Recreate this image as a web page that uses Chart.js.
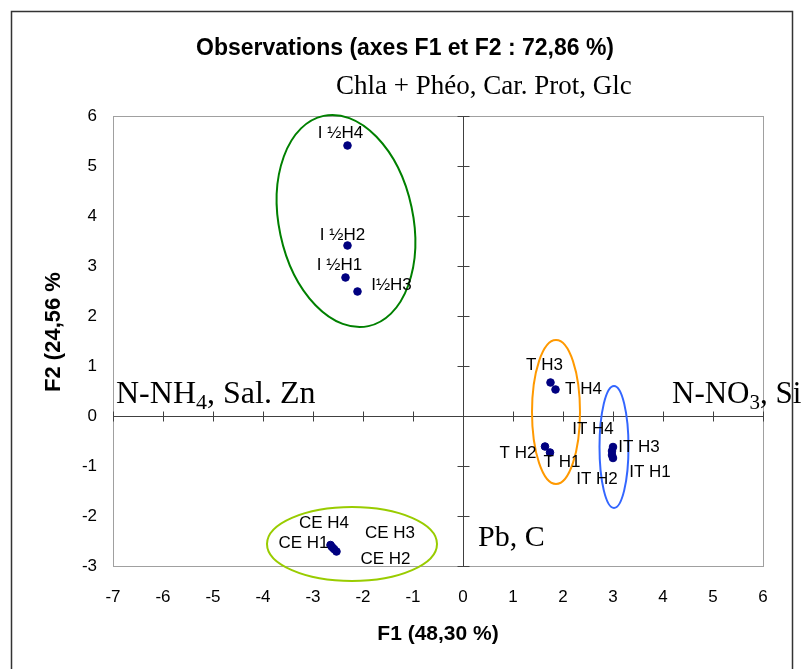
<!DOCTYPE html>
<html>
<head>
<meta charset="utf-8">
<script src="https://cdn.jsdelivr.net/npm/chart.js@4.4.0/dist/chart.umd.min.js"></script>
<style>
  html, body { margin: 0; padding: 0; background: #fff; }
  #wrap { width: 804px; height: 669px; }
</style>
</head>
<body>
<div id="wrap"><canvas id="acp-chart" width="804" height="669"></canvas></div>
<script>
// --- DATA ---
const obsNames = ['I ½H4', 'I ½H2', 'I ½H1', 'I½H3', 'T H3', 'T H4', 'T H2', 'T H1',
                  'IT H4', 'IT H3', 'IT H2', 'IT H1', 'CE H4', 'CE H1', 'CE H3', 'CE H2'];
const f1Scores = [-2.31, -2.31, -2.35, -2.11, 1.75, 1.85, 1.64, 1.74,
                  2.98, 3.00, 2.98, 3.00, -2.62, -2.65, -2.58, -2.53];
const f2Scores = [5.41, 3.41, 2.77, 2.49, 0.67, 0.53, -0.61, -0.73,
                  -0.70, -0.62, -0.78, -0.84, -2.62, -2.58, -2.66, -2.71];
const xRange = [-7, 6];
const yRange = [-3, 6];

// label offsets (px) from each point, same order as obsNames
const labelOffsets = [[-7, -12], [-5, -10], [-6, -12], [34, -6], [-6, -17], [28, 0], [-27, 7], [12, 10],
                      [-19, -22], [26, 0], [-15, 24], [37, 14], [-8, -24], [-27, -2], [56, -16], [49, 8]];

// group ellipses, in axis units
const groups = [
    { cx: -2.34, cy: 3.9, rx: 1.34, ry: 2.15, rot: -0.21, color: '#008000' },
    { cx: 1.86, cy: 0.08, rx: 0.48, ry: 1.44, rot: 0, color: '#FF9900' },
    { cx: 3.02, cy: -0.62, rx: 0.29, ry: 1.22, rot: 0, color: '#3366FF' },
    { cx: -2.22, cy: -2.56, rx: 1.7, ry: 0.74, rot: 0, color: '#99CC00' }
];

const SANS = '"Liberation Sans", Arial, sans-serif';
const SERIF = '"Liberation Serif", "Times New Roman", serif';

// --- DRAWING HELPERS ---
function textWithSub(ctx, x, y, parts, size) {
    // parts: [[text, isSub], ...]
    let cx = x;
    parts.forEach(([t, sub]) => {
        ctx.font = (sub ? Math.round(size * 0.68) : size) + 'px ' + SERIF;
        ctx.fillText(t, cx, sub ? y + size * 0.2 : y);
        cx += ctx.measureText(t).width;
    });
}

const decorPlugin = {
    id: 'decor',
    beforeDraw(chart) {
        const ctx = chart.ctx;
        ctx.save();
        ctx.fillStyle = '#fff';
        ctx.fillRect(0, 0, chart.width, chart.height);
        ctx.restore();
    },
    beforeDatasetsDraw(chart) {
        const { ctx, chartArea: a, scales: { x, y } } = chart;
        ctx.save();
        // outer frame
        ctx.strokeStyle = '#333';
        ctx.lineWidth = 1.5;
        ctx.strokeRect(11.5, 11.5, 781, 720);
        // plot area border
        ctx.strokeStyle = '#a0a0a0';
        ctx.lineWidth = 1;
        ctx.strokeRect(a.left + 0.5, a.top + 0.5, a.right - a.left, a.bottom - a.top);

        // axes crossing at zero, with cross ticks
        const x0 = Math.round(x.getPixelForValue(0)) + 0.5;
        const y0 = Math.round(y.getPixelForValue(0)) + 0.5;
        ctx.strokeStyle = '#404040';
        ctx.beginPath();
        ctx.moveTo(a.left, y0); ctx.lineTo(a.right, y0);
        ctx.moveTo(x0, a.top); ctx.lineTo(x0, a.bottom);
        for (let v = xRange[0]; v <= xRange[1]; v++) {
            const px = Math.round(x.getPixelForValue(v)) + 0.5;
            ctx.moveTo(px, y0 - 5); ctx.lineTo(px, y0 + 5);
        }
        for (let v = yRange[0]; v <= yRange[1]; v++) {
            const py = Math.round(y.getPixelForValue(v)) + 0.5;
            ctx.moveTo(x0 - 6, py); ctx.lineTo(x0 + 6, py);
        }
        ctx.stroke();

        // group ellipses
        ctx.lineWidth = 2;
        groups.forEach(g => {
            const cx = x.getPixelForValue(g.cx), cy = y.getPixelForValue(g.cy);
            const rx = Math.abs(x.getPixelForValue(g.cx + g.rx) - cx);
            const ry = Math.abs(y.getPixelForValue(g.cy + g.ry) - cy);
            ctx.strokeStyle = g.color;
            ctx.beginPath();
            ctx.ellipse(cx, cy, rx, ry, g.rot, 0, Math.PI * 2);
            ctx.stroke();
        });
        ctx.restore();
    },
    afterDatasetsDraw(chart) {
        const { ctx, chartArea: a } = chart;
        const meta = chart.getDatasetMeta(0);
        ctx.save();
        ctx.fillStyle = '#000';

        // point labels
        ctx.font = '17px ' + SANS;
        ctx.textAlign = 'center';
        ctx.textBaseline = 'middle';
        meta.data.forEach((pt, i) => {
            const [dx, dy] = labelOffsets[i];
            ctx.fillText(obsNames[i], pt.x + dx, pt.y + dy);
        });

        // titles
        ctx.font = 'bold 23px ' + SANS;
        ctx.textBaseline = 'alphabetic';
        ctx.fillText('Observations (axes F1 et F2 : 72,86 %)', 405, 55);
        ctx.font = 'bold 21px ' + SANS;
        ctx.fillText('F1 (48,30 %)', (a.left + a.right) / 2, 640);
        ctx.save();
        ctx.translate(60, 332);
        ctx.rotate(-Math.PI / 2);
        ctx.font = 'bold 22px ' + SANS;
        ctx.fillText('F2 (24,56 %', 0, 0);
        ctx.restore();

        // variable annotations
        ctx.textAlign = 'left';
        ctx.font = '27px ' + SERIF;
        ctx.fillText('Chla + Phéo, Car. Prot, Glc', 336, 94);
        textWithSub(ctx, 116, 403, [['N-NH', false], ['4', true], [', Sal. Zn', false]], 32);
        textWithSub(ctx, 672, 403, [['N-NO', false], ['3', true], [', Si', false]], 31);
        ctx.font = '30px ' + SERIF;
        ctx.fillText('Pb, C', 478, 546);
        ctx.restore();
    }
};

// --- CHART ---
const ctx = document.getElementById('acp-chart').getContext('2d');
new Chart(ctx, {
    type: 'scatter',
    data: {
        datasets: [{
            label: 'Observations',
            data: f1Scores.map((v, i) => ({ x: v, y: f2Scores[i] })),
            backgroundColor: '#000080',
            borderColor: '#000080',
            pointRadius: 3.8,
            pointHoverRadius: 3.8
        }]
    },
    options: {
        responsive: false,
        animation: false,
        events: [],
        layout: { padding: { top: 116, right: 41, left: 0, bottom: 0 } },
        plugins: { legend: { display: false }, tooltip: { enabled: false } },
        scales: {
            x: {
                type: 'linear',
                min: xRange[0],
                max: xRange[1],
                afterFit: s => { s.height = 103; },
                grid: { display: false, drawTicks: false },
                border: { display: false },
                ticks: { stepSize: 1, padding: 21, color: '#000', font: { family: SANS, size: 17 } }
            },
            y: {
                type: 'linear',
                min: yRange[0],
                max: yRange[1],
                afterFit: s => { s.width = 113; },
                grid: { display: false, drawTicks: false },
                border: { display: false },
                ticks: { stepSize: 1, padding: 16, color: '#000', font: { family: SANS, size: 17 } }
            }
        }
    },
    plugins: [decorPlugin]
});
</script>
</body>
</html>
